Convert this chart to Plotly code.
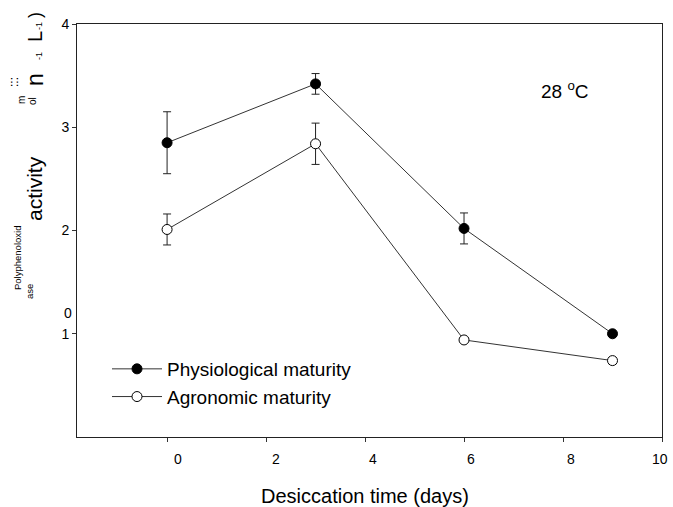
import plotly.graph_objects as go

# ---------------- data ----------------
days = [0, 3, 6, 9]
physio_mean = [2.85, 3.42, 2.02, 1.00]
physio_err = [0.30, 0.10, 0.15, 0.0]
agro_mean = [2.01, 2.84, 0.94, 0.74]
agro_err = [0.15, 0.20, 0.0, 0.03]

x_ticks = [0, 2, 4, 6, 8, 10]
x_tick_labels = ["0", "2", "4", "6", "8", "10"]
x_label_shift = [11, 10, 8, 7, 8, -2]
y_ticks = [1, 2, 3, 4]
y_tick_labels = ["1", "2", "3", "4"]

series_names = ["Physiological maturity", "Agronomic maturity"]

# ---------------- layout geometry ----------------
W, H = 673, 507
L, R, T, B = 77, 662, 24, 437
FONT = "Arial, Liberation Sans, sans-serif"


def px(xp, yp):
    return (xp - L) / (R - L), (B - yp) / (B - T)


fig = go.Figure()

fig.add_trace(go.Scatter(
    x=days, y=physio_mean, name=series_names[0], mode="lines+markers",
    line=dict(color="#333333", width=1),
    marker=dict(symbol="circle", size=10, color="black", line=dict(color="black", width=1)),
    error_y=dict(type="data", array=physio_err, visible=True, color="#222222", thickness=1, width=4),
    legendgroup="a",
))
fig.add_trace(go.Scatter(
    x=days, y=agro_mean, name=series_names[1], mode="lines+markers",
    line=dict(color="#333333", width=1),
    marker=dict(symbol="circle", size=10, color="white", line=dict(color="black", width=1)),
    error_y=dict(type="data", array=agro_err, visible=True, color="#222222", thickness=1, width=4),
    legendgroup="b",
))

annotations = []

# x tick labels (slightly offset as in the reference)
ly = px(0, 459)[1]
for v, t, s in zip(x_ticks, x_tick_labels, x_label_shift):
    annotations.append(dict(x=v, y=ly, xref="x", yref="paper", text=t, showarrow=False,
                            xanchor="center", yanchor="middle", xshift=s,
                            font=dict(family=FONT, size=14, color="black")))

# stray "0" y label
ax0, ay0 = px(68, 313)
annotations.append(dict(x=ax0, y=ay0, xref="paper", yref="paper", text="0", showarrow=False,
                        xanchor="center", yanchor="middle",
                        font=dict(family=FONT, size=14, color="black")))

# x axis title
tx, ty = px(365, 496)
annotations.append(dict(x=tx, y=ty, xref="paper", yref="paper", text="Desiccation time (days)",
                        showarrow=False, xanchor="center", yanchor="middle",
                        font=dict(family=FONT, size=20, color="black")))

# fragmented y axis title pieces (rotated)
ylabel_parts = [
    ("Polyphenoloxid", 17, 258, 9.5),
    ("ase", 29, 292, 9.5),
    ("activity", 35, 189, 21),
    ("m", 21, 100, 10),
    ("ol", 33, 101, 10),
    (":::", 14, 82, 12),
    ("n", 35, 80, 23),
    ("-1", 39, 56, 9),
    ("L", 35, 37, 20),
    ("-1", 39, 26, 9),
    (")", 35, 15, 18),
]
for text, xp, yp, sz in ylabel_parts:
    ax, ay = px(xp, yp)
    annotations.append(dict(x=ax, y=ay, xref="paper", yref="paper", text=text, showarrow=False,
                            textangle=-90, xanchor="center", yanchor="middle",
                            font=dict(family=FONT, size=sz, color="black")))

# temperature label
cx, cy = px(565, 90)
annotations.append(dict(x=cx, y=cy, xref="paper", yref="paper", text="28 <sup>o</sup>C",
                        showarrow=False, xanchor="center", yanchor="middle",
                        font=dict(family=FONT, size=19, color="black")))

lgx, lgy = px(107, 350)

fig.update_layout(
    width=W, height=H,
    margin=dict(l=L, r=W - R, t=T, b=H - B),
    paper_bgcolor="white", plot_bgcolor="white",
    font=dict(family=FONT, size=14, color="black"),
    showlegend=True,
    legend=dict(x=lgx, y=lgy, xanchor="left", yanchor="top", bgcolor="rgba(0,0,0,0)",
                borderwidth=0, font=dict(family=FONT, size=19, color="black"),
                itemwidth=50, traceorder="grouped", tracegroupgap=0),
    xaxis=dict(range=[-1.82, 10], tickvals=x_ticks, showticklabels=False,
               ticks="outside", ticklen=4, tickcolor="#333333", showgrid=False, zeroline=False,
               showline=True, linecolor="#222222", linewidth=1, mirror=True),
    yaxis=dict(range=[0, 4], tickvals=y_ticks, ticktext=y_tick_labels,
               ticks="outside", ticklen=4, tickcolor="#333333", showgrid=False, zeroline=False,
               showline=True, linecolor="#222222", linewidth=1, mirror=True,
               tickfont=dict(family=FONT, size=14, color="black")),
    annotations=annotations,
)

fig.write_html("out.html")
